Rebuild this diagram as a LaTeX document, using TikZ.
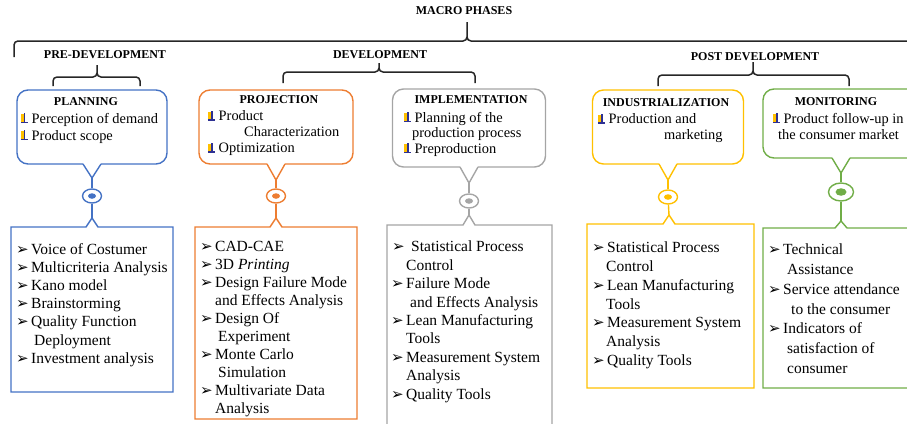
\documentclass[tikz,border=0pt]{standalone}
\usepackage{fontspec}
\setmainfont{Liberation Serif}
\newfontfamily\symf{DejaVu Sans}
\usetikzlibrary{shapes.geometric,calc}
\definecolor{cblue}{HTML}{4472C4}
\definecolor{corange}{HTML}{ED7D31}
\definecolor{cgray}{HTML}{A5A5A5}
\definecolor{cyellow}{HTML}{FFC000}
\definecolor{cgreen}{HTML}{70AD47}
\definecolor{icoY}{HTML}{FFC000}
\definecolor{icoB}{HTML}{2E3192}
% small bullet icon of the callouts
\newcommand\ico{\makebox[10.5pt][l]{%
  \rlap{\raisebox{1.5pt}{\textcolor{icoY}{\rule{3.2pt}{7.5pt}}}}%
  \rlap{\hspace*{3pt}\textcolor{icoB}{\rule{1.3pt}{10pt}}}%
  \textcolor{icoB}{\rule{7pt}{1.5pt}}}}
% arrowhead bullet of the lists
\newcommand\bl{\makebox[15pt][l]{\raisebox{0pt}{\symf\bfseries\fontsize{15}{15}\selectfont ➢}}}

\begin{document}
\begin{tikzpicture}[x=1pt, y=-1pt,
    outl/.style={line width=1.4pt},
    brc/.style={draw=black!85, line width=1.5pt, rounded corners=4pt},
    hdr/.style={font=\bfseries\fontsize{12}{14}\selectfont, inner sep=0pt},
    callout/.style={inner sep=0pt, outer sep=0pt},
    ring/.style={ellipse, draw=#1, line width=1.4pt, fill=white,
                 minimum width=19pt, minimum height=14pt, inner sep=0pt},
    pip/.style={ellipse, fill=#1, minimum width=8pt, minimum height=5.5pt, inner sep=0pt},
    toplst/.style={anchor=north west, inner sep=0pt, align=left,
                   font=\fontsize{14.4}{16}\selectfont},
    lst/.style={anchor=north west, inner sep=0pt, align=left,
                font=\fontsize{15.5}{18.2}\selectfont}
]
    \useasboundingbox (0,0) rectangle (907,423);
    \clip (0,0) rectangle (907,423);

    % Phase headers
    \node[hdr] (macro) at (464,11) {MACRO PHASES};
    \node[hdr] (pre)   at (105,55) {PRE-DEVELOPMENT};
    \node[hdr] (dev)   at (380,55) {DEVELOPMENT};
    \node[hdr] (post)  at (755,57) {POST DEVELOPMENT};

    % Braces
    \foreach \xa/\xm/\xb/\yb/\ym/\yt in {14/467/920/57/41/22, 53/97/140/86/77/65,
                                        283/379/475/83/72/63, 658/753/849/86/75/62}
        \draw[brc] (\xa,\yb) |- (\xm,\ym) -- (\xm,\yt) (\xb,\yb) |- (\xm,\ym) -- (\xm,\yt);

    % Callout boxes
    \node[callout, minimum width=150pt, minimum height=74pt] (plan) at (92,127) {};
    \node[callout, minimum width=154pt, minimum height=74pt] (proj) at (276,127) {};
    \node[callout, minimum width=153pt, minimum height=78pt] (impl) at (469,128) {};
    \node[callout, minimum width=151pt, minimum height=74pt] (indu) at (668,127) {};
    \node[callout, minimum width=156pt, minimum height=69pt] (moni) at (841,123.5) {};

    % Pointer tips, rings and notches
    \coordinate (plan-v) at (92,178);  \coordinate (plan-n) at (92,218);
    \coordinate (proj-v) at (276,180); \coordinate (proj-n) at (276,218);
    \coordinate (impl-v) at (469,183); \coordinate (impl-n) at (469,215);
    \coordinate (indu-v) at (668,180); \coordinate (indu-n) at (669,215);
    \coordinate (moni-v) at (841,173); \coordinate (moni-n) at (841,221);

    \node[ring=cblue]   (plan-e) at (92,196) {};
    \node[ring=corange] (proj-e) at (276,196) {};
    \node[ring=cgray]   (impl-e) at (469,201) {};
    \node[ring=cyellow] (indu-e) at (668,197) {};
    \node[ring=cgreen, minimum width=25pt, minimum height=18pt] (moni-e) at (841,192) {};
    \node[pip=cblue]   (plan-d) at (plan-e) {};
    \node[pip=corange] (proj-d) at (proj-e) {};
    \node[pip=cgray]   (impl-d) at (impl-e) {};
    \node[pip=cyellow] (indu-d) at (indu-e) {};
    \node[pip=cgreen, minimum width=11pt, minimum height=7.5pt] (moni-d) at (moni-e) {};

    % List boxes
    \node[callout, minimum width=162pt, minimum height=165pt] (plan-b) at (92,309.5) {};
    \node[callout, minimum width=162pt, minimum height=192pt] (proj-b) at (276,323) {};
    \node[callout, minimum width=165pt, minimum height=215pt] (impl-b) at (469.5,332.5) {};
    \node[callout, minimum width=167pt, minimum height=164pt] (indu-b) at (670.5,306) {};
    \node[callout, minimum width=157pt, minimum height=160pt] (moni-b) at (841.5,308) {};

    % Outlines and connectors
    \foreach \n/\c in {plan/cblue, proj/corange, impl/cgray, indu/cyellow, moni/cgreen} {
        \draw[outl, draw=\c, rounded corners=11pt] ($(\n.south)+(-9,0)$) -- (\n.south west)
            -- (\n.north west) -- (\n.north east) -- (\n.south east) -- ($(\n.south)+(9,0)$);
        \draw[outl, draw=\c] ($(\n.south)+(-9,0)$) -- (\n-v) -- ($(\n.south)+(9,0)$);
        \draw[outl, draw=\c] (\n-v) -- (\n-e);
        \draw[outl, draw=\c] (\n-e) -- (\n-n);
        \draw[outl, draw=\c] (\n-n) -- ($(\n-n |- \n-b.north)+(6,0)$) -- (\n-b.north east)
            -- (\n-b.south east) -- (\n-b.south west) -- (\n-b.north west)
            -- ($(\n-n |- \n-b.north)+(-6,0)$) -- cycle;
    }

    % Callout titles
    \node[hdr] (plan-h) at (86,102)  {PLANNING};
    \node[hdr] (proj-h) at (279,100) {PROJECTION};
    \node[hdr] (impl-h) at (471,100) {IMPLEMENTATION};
    \node[hdr] (indu-h) at (666,103) {INDUSTRIALIZATION};
    \node[hdr] (moni-h) at (836,102) {MONITORING};

    % Callout items
    \node[toplst, font=\fontsize{14.4}{17}\selectfont] (plan-l) at (21,112.7)
        {\ico Perception of demand\\ \ico Product scope};
    \node[toplst] (proj-l) at (208,110.7)
        {\ico Product\\ \hspace*{36pt}Characterization\\ \ico Optimization};
    \node[toplst, font=\fontsize{14.4}{15.5}\selectfont] (impl-l) at (404,111.7)
        {\ico Planning of the\\ \hspace*{8pt}production process\\ \ico Preproduction};
    \node[toplst] (indu-l) at (598,113.7)
        {\ico Production and\\ \hspace*{66pt}marketing};
    \node[toplst] (moni-l) at (773,112.7)
        {\ico Product follow-up in\\ \hspace*{5pt}the consumer market};

    % List items
    \node[lst] (plan-t) at (16,243)
        {\bl Voice of Costumer\\ \bl Multicriteria Analysis\\ \bl Kano model\\
         \bl Brainstorming\\ \bl Quality Function\\ \hspace*{18pt}Deployment\\
         \bl Investment analysis};
    \node[lst, font=\fontsize{15.5}{18}\selectfont] (proj-t) at (200,241)
        {\bl CAD-CAE\\ \bl 3D \textit{Printing}\\ \bl Design Failure Mode\\
         \hspace*{15pt}and Effects Analysis\\ \bl Design Of\\ \hspace*{18pt}Experiment\\
         \bl Monte Carlo\\ \hspace*{18pt}Simulation\\ \bl Multivariate Data\\
         \hspace*{15pt}Analysis};
    \node[lst, font=\fontsize{15.5}{18.4}\selectfont] (impl-t) at (391,241)
        {\hspace*{1pt}\bl\hspace*{4pt}Statistical Process\\ \hspace*{15pt}Control\\
         \bl Failure Mode\\ \hspace*{19pt}and Effects Analysis\\ \bl Lean Manufacturing\\
         \hspace*{15pt}Tools\\ \bl Measurement System\\ \hspace*{15pt}Analysis\\
         \bl Quality Tools};
    \node[lst, font=\fontsize{15.5}{18.7}\selectfont] (indu-t) at (592,242)
        {\bl Statistical Process\\ \hspace*{14pt}Control\\ \bl Lean Manufacturing\\
         \hspace*{14pt}Tools\\ \bl Measurement System\\ \hspace*{14pt}Analysis\\
         \bl Quality Tools};
    \node[lst, font=\fontsize{15.5}{19.7}\selectfont] (moni-t) at (768,244)
        {\bl Technical\\ \hspace*{19pt}Assistance\\ \bl Service attendance\\
         \hspace*{23pt}to the consumer\\ \bl Indicators of\\ \hspace*{19pt}satisfaction of\\
         \hspace*{19pt}consumer};
\end{tikzpicture}
\end{document}
